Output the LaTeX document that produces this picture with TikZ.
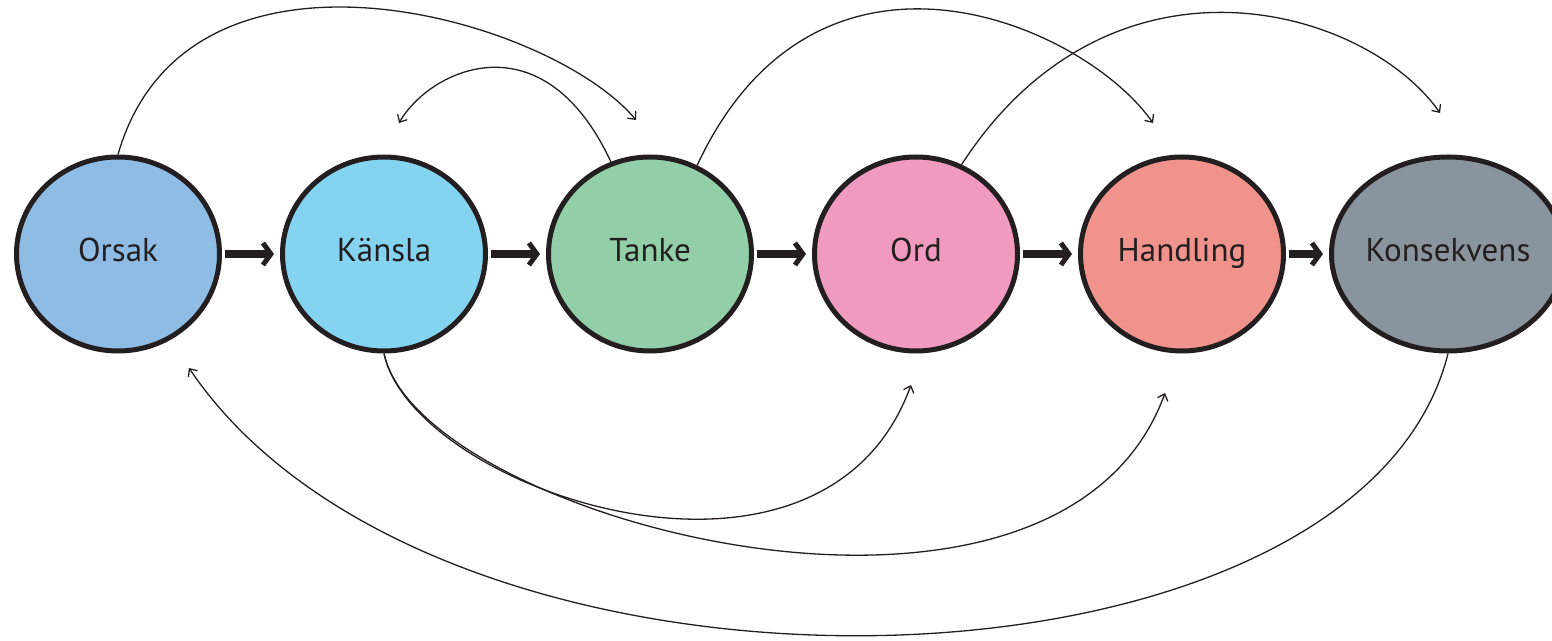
\documentclass[tikz,border=0pt]{standalone}
\usepackage{fontspec}
\setmainfont{PT Sans}
\usepackage{tikz}
\usetikzlibrary{arrows.meta,positioning,shapes.geometric}
\definecolor{linecol}{RGB}{35,31,32}
\definecolor{orsakfill}{RGB}{143,188,228}
\definecolor{kanslafill}{RGB}{132,211,240}
\definecolor{tankefill}{RGB}{146,207,168}
\definecolor{ordfill}{RGB}{240,154,192}
\definecolor{handlingfill}{RGB}{240,147,141}
\definecolor{konsfill}{RGB}{138,148,156}
\tikzstyle{stage}=[ellipse,draw=linecol,line width=5pt,minimum width=203pt,minimum height=194pt,inner sep=0pt,text=linecol,font=\fontsize{33}{40}\selectfont,text height=23pt,text depth=8pt]

\begin{document}
\begin{tikzpicture}[x=1pt,y=1pt,node distance=266pt,on grid]
	\tikzstyle{chain}=[line width=8pt,draw=linecol,-{Straight Barb[length=8pt,width=22pt,line width=5pt]},shorten <=3pt,shorten >=6pt]
	\tikzstyle{link}=[line width=1.3pt,draw=linecol,-{Straight Barb[length=6pt,width=11pt]}]
	\useasboundingbox (0,0) rectangle (1552,640);

	\node[stage,fill=orsakfill]		(orsak)	at (118,386)		{Orsak};
	\node[stage,fill=kanslafill]	(kansla)	[right=of orsak]	{Känsla};
	\node[stage,fill=tankefill]		(tanke)	[right=of kansla]	{Tanke};
	\node[stage,fill=ordfill]		(ord)		[right=of tanke]	{Ord};
	\node[stage,fill=handlingfill]	(handling)	[right=of ord]		{Handling};
	\node[stage,fill=konsfill]		(kons)	[right=of handling]	{Konsekvens};

	\coordinate (t1) at (636,520);
	\coordinate (t2) at (399,517);
	\coordinate (t3) at (1153,517);
	\coordinate (t4) at (1440,527);
	\coordinate (t5) at (911,255);
	\coordinate (t6) at (1165,247);
	\coordinate (t7) at (189,272);

\path[chain] (orsak) edge (kansla)
			(kansla) edge (tanke)
			(tanke) edge (ord)
			(ord) edge (handling)
			(handling) edge (kons);

\draw[link] (orsak.north) .. controls +(74:250) and +(130:135) .. (t1);
\draw[link] (tanke.113) .. controls +(115:161) and +(60:62) .. (t2);
\draw[link] (tanke.62) .. controls +(65:285) and +(125:120) .. (t3);
\draw[link] (ord.63) .. controls +(57:275) and +(125:129) .. (t4);
\draw[link] (kansla.south) .. controls +(-78:140) and +(250:260) .. (t5);
\draw[link] (kansla.south) .. controls +(-78:170) and +(250:315) .. (t6);
\draw[link] (kons.south) .. controls +(256:372) and +(-56:448) .. (t7);
\end{tikzpicture}
\end{document}
